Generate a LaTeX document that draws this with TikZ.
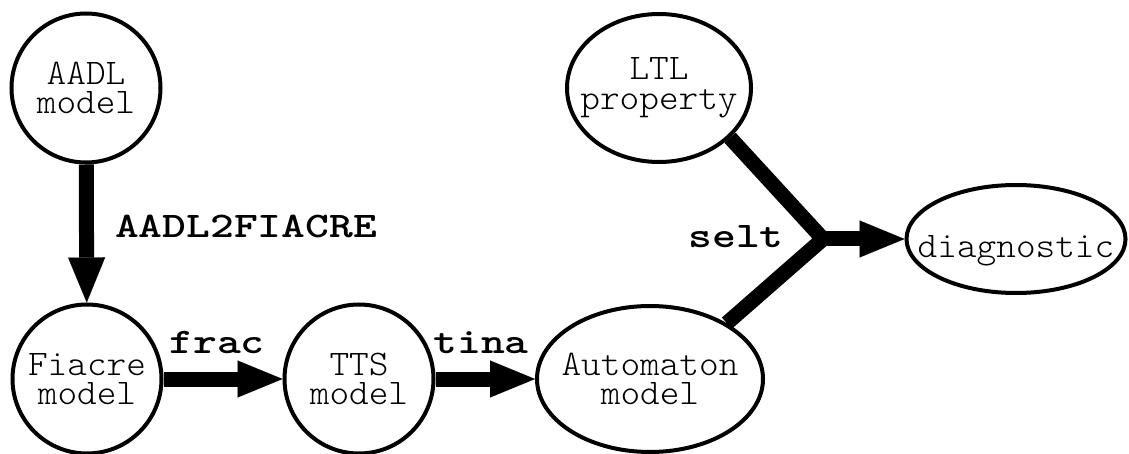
\documentclass[tikz,border=0pt]{standalone}
\usepackage{fontspec}
\usetikzlibrary{arrows.meta,shapes.geometric}
% Courier-like typewriter faces for node texts and tool labels
\newfontfamily\nodefont{lmmonolt10-regular.otf}[FakeStretch=1.04]
\newfontfamily\toolfont{lmmonolt10-bold.otf}[FakeStretch=1.26]
% zero-width line, so that the outline size is set by the style alone
\newcommand{\zw}[1]{\makebox[0pt][c]{#1}}

\tikzset{
  state/.style={draw, line width=4pt, circle, minimum size=149pt, inner sep=0pt,
    align=center, font=\nodefont\fontsize{36}{29.5}\selectfont},
  oval/.style={state, ellipse},
  conn/.style={line width=15pt, line join=miter,
    -{Triangle[length=45pt,width=37pt,line width=0.1pt]}},
  plainconn/.style={line width=15pt, line join=miter},
  tool/.style={anchor=base, inner sep=0pt, font=\toolfont\fontsize{36}{36}\selectfont}
}

\begin{document}
\begin{tikzpicture}[x=1pt, y=-1pt]
  \useasboundingbox (0,0) rectangle (1129,454);

  % models
  \node[state] (aadl)   at (86,88)   {AADL\\model};
  \node[state] (fiacre) at (87,379)  {Fiacre\\model};
  \node[state] (tts)    at (359,379) {TTS\\model};
  \node[oval, minimum width=226pt, minimum height=146pt] (autom) at (650,379)
    {\zw{Automaton}\\\zw{model}};
  \node[oval, minimum width=184pt, minimum height=148pt] (ltl) at (659,88)
    {\zw{LTL}\\\zw{property}};
  \node[oval, minimum width=219pt, minimum height=108pt,
        text height=38pt, text depth=0pt] (diag) at (1016,239) {\zw{diagnostic}};

  % tool chain
  \draw[conn] (aadl) -- (fiacre);
  \draw[conn] (fiacre) -- (tts);
  \draw[conn] (tts) -- (autom);

  \coordinate (join) at (823,239);
  \draw[plainconn] (ltl.-35) -- (join) -- (autom.36);
  \draw[conn] (join) -- (diag);

  % tool names
  \node[tool] (l1) at (246,238) {AADL2FIACRE};
  \node[tool] (l2) at (217,353) {frac};
  \node[tool] (l3) at (481,353) {tina};
  \node[tool] (l4) at (736,248) {selt};
\end{tikzpicture}
\end{document}
